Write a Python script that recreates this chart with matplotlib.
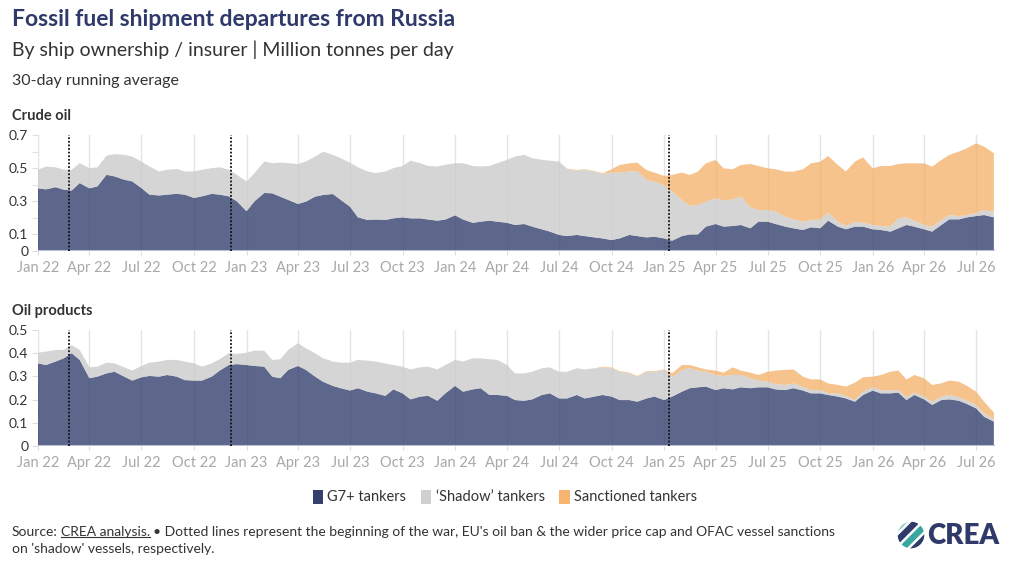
import matplotlib
matplotlib.use("Agg")
import matplotlib.pyplot as plt
import matplotlib.dates as mdates
from matplotlib.patches import Patch, Polygon, Circle
from matplotlib.lines import Line2D
import numpy as np
import pandas as pd

plt.rcParams["font.family"] = ["Lato", "DejaVu Sans"]

# semi-monthly readings (1st and 15th of each month), Jan 2022 - Aug 2026
dates = pd.date_range("2022-01-01", "2026-08-01", freq="SMS")

# crude oil, stacked levels (million t/day)
crude_g7 = [
    .378, .372, .385, .37, .365, .41, .378, .39, .46, .45, .43, .42,
    .38, .34, .335, .34, .345, .34, .32, .33, .345, .34, .33, .30,
    .24, .30, .35, .348, .328, .308, .284, .298, .328, .338, .344, .308,
    .268, .203, .187, .19, .187, .197, .203, .197, .197, .19, .183, .19,
    .215, .19, .17, .177, .183, .177, .17, .157, .163, .147, .131, .117,
    .097, .09, .097, .09, .082, .076, .066, .076, .097, .09, .082, .086,
    .076, .062, .09, .10, .10, .147, .163, .147, .151, .157, .137, .177,
    .177, .163, .147, .137, .127, .143, .137, .183, .147, .131, .147, .147,
    .131, .127, .117, .137, .157, .147, .131, .117, .157, .191, .191, .203,
    .211, .217, .203,
]
crude_shadow_top = [
    .49, .51, .505, .49, .49, .53, .50, .505, .575, .585, .58, .57,
    .54, .51, .48, .49, .495, .48, .48, .49, .50, .505, .49, .46,
    .42, .47, .54, .53, .533, .53, .525, .54, .57, .60, .58, .56,
    .533, .505, .48, .47, .48, .50, .513, .545, .53, .513, .51, .52,
    .53, .53, .513, .51, .513, .53, .55, .57, .58, .56, .55, .545,
    .54, .493, .485, .49, .48, .465, .473, .473, .48, .483, .43, .418,
    .398, .358, .308, .272, .278, .298, .318, .304, .312, .328, .264, .247,
    .247, .237, .207, .191, .177, .187, .191, .231, .177, .151, .177, .171,
    .157, .151, .147, .197, .203, .183, .157, .147, .187, .217, .211, .217,
    .231, .247, .237,
]
crude_total = [
    .49, .51, .505, .49, .49, .53, .50, .505, .575, .585, .58, .57,
    .54, .51, .48, .49, .495, .48, .48, .49, .50, .505, .49, .46,
    .42, .47, .54, .53, .533, .53, .525, .54, .57, .60, .58, .56,
    .533, .505, .48, .47, .48, .50, .513, .545, .53, .513, .51, .52,
    .53, .53, .513, .51, .513, .53, .55, .57, .58, .56, .55, .545,
    .54, .497, .489, .493, .483, .469, .493, .519, .529, .533, .489, .473,
    .453, .459, .473, .459, .479, .529, .549, .499, .493, .519, .525, .513,
    .499, .493, .479, .479, .493, .529, .539, .573, .519, .48, .54, .565,
    .499, .513, .513, .525, .529, .529, .529, .509, .549, .58, .60, .62,
    .65, .63, .59,
]

# oil products, stacked levels
prod_g7 = [
    .356, .349, .364, .378, .40, .371, .292, .299, .313, .32, .299, .282,
    .296, .302, .299, .306, .299, .284, .282, .282, .299, .325, .349, .353,
    .349, .345, .342, .299, .292, .328, .345, .328, .299, .277, .259, .249,
    .239, .249, .234, .227, .216, .244, .227, .201, .213, .216, .195, .227,
    .259, .234, .244, .249, .22, .22, .216, .198, .195, .201, .22, .227,
    .205, .205, .22, .205, .213, .22, .213, .198, .198, .191, .205, .213,
    .198, .213, .234, .249, .253, .256, .241, .249, .244, .253, .249, .253,
    .253, .244, .241, .249, .239, .227, .227, .22, .213, .205, .191, .22,
    .239, .227, .227, .23, .198, .22, .201, .177, .198, .201, .195, .181,
    .162, .126, .105,
]
prod_shadow_top = [
    .402, .407, .414, .414, .435, .414, .339, .342, .359, .356, .339, .325,
    .345, .359, .364, .371, .371, .364, .356, .342, .356, .374, .40, .397,
    .402, .411, .411, .371, .374, .414, .443, .421, .40, .378, .364, .359,
    .359, .371, .368, .364, .356, .349, .342, .33, .339, .342, .33, .349,
    .371, .364, .378, .378, .374, .371, .349, .313, .313, .32, .335, .339,
    .32, .32, .335, .33, .335, .339, .335, .32, .313, .299, .32, .32,
    .328, .296, .328, .335, .325, .32, .306, .302, .306, .306, .292, .282,
    .277, .267, .263, .27, .256, .241, .241, .227, .227, .216, .198, .234,
    .253, .241, .239, .241, .21, .23, .213, .191, .213, .22, .21, .195,
    .177, .141, .115,
]
prod_total = [
    .402, .407, .414, .414, .435, .414, .339, .342, .359, .356, .339, .325,
    .345, .359, .364, .371, .371, .364, .356, .342, .356, .374, .40, .397,
    .402, .411, .411, .371, .374, .414, .443, .421, .40, .378, .364, .359,
    .359, .371, .368, .364, .356, .349, .342, .33, .339, .342, .33, .349,
    .371, .364, .378, .378, .374, .371, .349, .313, .313, .32, .335, .339,
    .32, .32, .335, .33, .335, .342, .338, .323, .316, .302, .323, .323,
    .33, .313, .349, .349, .339, .33, .325, .316, .339, .325, .316, .306,
    .32, .325, .328, .33, .299, .287, .287, .27, .263, .256, .273, .296,
    .299, .306, .32, .325, .287, .306, .292, .263, .27, .282, .277, .259,
    .234, .191, .144,
]

events = ["2022-02-24", "2022-12-05", "2025-01-10"]
series_names = ["G7+ tankers", "\u2018Shadow\u2019 tankers", "Sanctioned tankers"]
base_colors = ["#35406e", "#cbcbcb", "#f5b46f"]

W, H = 1024, 569
fig = plt.figure(figsize=(W / 100, H / 100), dpi=100)


def panel(bottom_px, top_px, g7, shadow_top, total, ymax, major, minor):
    ax = fig.add_axes([38 / W, 1 - bottom_px / H, 957 / W, (bottom_px - top_px) / H])
    g7 = np.array(g7)
    shadow = np.array(shadow_top) - g7
    sanc = np.array(total) - np.array(shadow_top)
    ax.stackplot(dates, g7, shadow, sanc, colors=base_colors, alpha=0.8, linewidth=0)
    ax.set_xlim(pd.Timestamp("2022-01-01"), pd.Timestamp("2026-08-03"))
    ax.set_ylim(0, ymax)
    ax.xaxis.set_major_locator(mdates.MonthLocator(bymonth=[1, 4, 7, 10]))
    ax.xaxis.set_major_formatter(mdates.DateFormatter("%b %y"))
    ax.grid(axis="x", color="#e4e4e4", lw=1)
    ax.set_axisbelow(True)
    ax.set_yticks(major)
    ax.set_yticklabels(["{:g}".format(v) for v in major])
    ax.set_yticks(minor, minor=True)
    ax.tick_params(axis="x", colors="#dddddd", labelcolor="#a8a8a8", labelsize=10.5, length=3, pad=4)
    ax.tick_params(axis="y", which="both", colors="#dddddd", labelcolor="#333333", labelsize=10, length=4, pad=3)
    for s in ax.spines.values():
        s.set_visible(False)
    ax.axhline(0, color="#b9bdd2", lw=1.5, zorder=5)
    for d in events:
        ax.axvline(pd.Timestamp(d), color="#111111", lw=1.3, ls=(0, (1, 1)), zorder=6)
    return ax


panel(251, 135, crude_g7, crude_shadow_top, crude_total, 0.7,
      [0, 0.1, 0.3, 0.5, 0.7], [0.2, 0.4, 0.6])
panel(446, 330, prod_g7, prod_shadow_top, prod_total, 0.5,
      [0, 0.1, 0.2, 0.3, 0.4, 0.5], [])

navy = "#2f3a6b"
fig.text(12 / W, 1 - 20 / H, "Fossil fuel shipment departures from Russia",
         fontsize=16.5, fontweight="bold", color=navy, va="center")
fig.text(12 / W, 1 - 50 / H, "By ship ownership / insurer | Million tonnes per day",
         fontsize=14, color="#333333", va="center")
fig.text(12 / W, 1 - 81 / H, "30-day running average",
         fontsize=11.5, color="#333333", va="center")
fig.text(12 / W, 1 - 116 / H, "Crude oil", fontsize=10.5, fontweight="bold",
         color="#333333", va="center")
fig.text(12 / W, 1 - 311 / H, "Oil products", fontsize=10.5, fontweight="bold",
         color="#333333", va="center")

legend_colors = ["#35406e", "#d0d0d0", "#f5b46f"]
handles = [Patch(facecolor=c, edgecolor="none") for c in legend_colors]
fig.legend(handles, series_names, loc="center", bbox_to_anchor=(505 / W, 1 - 497 / H),
           ncol=3, frameon=False, fontsize=10.5, handlelength=0.7, handleheight=1.1,
           handletextpad=0.3, columnspacing=1.0, labelcolor="#333333")

# source note with underlined link text
renderer = fig.canvas.get_renderer()
y1 = 1 - 532 / H
src_kw = dict(fontsize=10, color="#333333", va="center")
t1 = fig.text(12 / W, y1, "Source:", **src_kw)
bb1 = t1.get_window_extent(renderer)
t2 = fig.text((bb1.x1 + 3) / W, y1, "CREA analysis.", **src_kw)
bb2 = t2.get_window_extent(renderer)
fig.add_artist(Line2D([bb2.x0 / W, bb2.x1 / W], [(bb2.y0 + 1) / H] * 2,
                      color="#333333", lw=0.8))
fig.text((bb2.x1 + 3) / W, y1,
         "\u2022 Dotted lines represent the beginning of the war, EU's oil ban & the wider price cap and OFAC vessel sanctions",
         **src_kw)
fig.text(12 / W, 1 - 549 / H, "on 'shadow' vessels, respectively.", **src_kw)

# CREA logo
lax = fig.add_axes([897 / W, 1 - 549 / H, 28 / W, 28 / H])
lax.set_xlim(-1, 1)
lax.set_ylim(-1, 1)
lax.axis("off")
circ = Circle((0, 0), 0.95, transform=lax.transData, fc="none", ec="none")
lax.add_patch(circ)
stripe_cols = ["#7bbf45", "#2f3a6b", "#3aa6a0", "#2f3a6b", "#8fd0c8"]
offs = [0.9, 0.45, 0.0, -0.45, -0.9]
for c, o in zip(stripe_cols, offs):
    pts = [(-2 + o, -2 - o), (2 + o, 2 - o), (2 + o + 0.32, 2 - o - 0.32), (-2 + o + 0.32, -2 - o - 0.32)]
    p = Polygon(pts, closed=True, fc=c, ec="none")
    lax.add_patch(p)
    p.set_clip_path(circ)
fig.text(927 / W, 1 - 536 / H, "CREA", fontsize=20, fontweight="heavy",
         color=navy, va="center")

fig.savefig("out.png", dpi=100)
